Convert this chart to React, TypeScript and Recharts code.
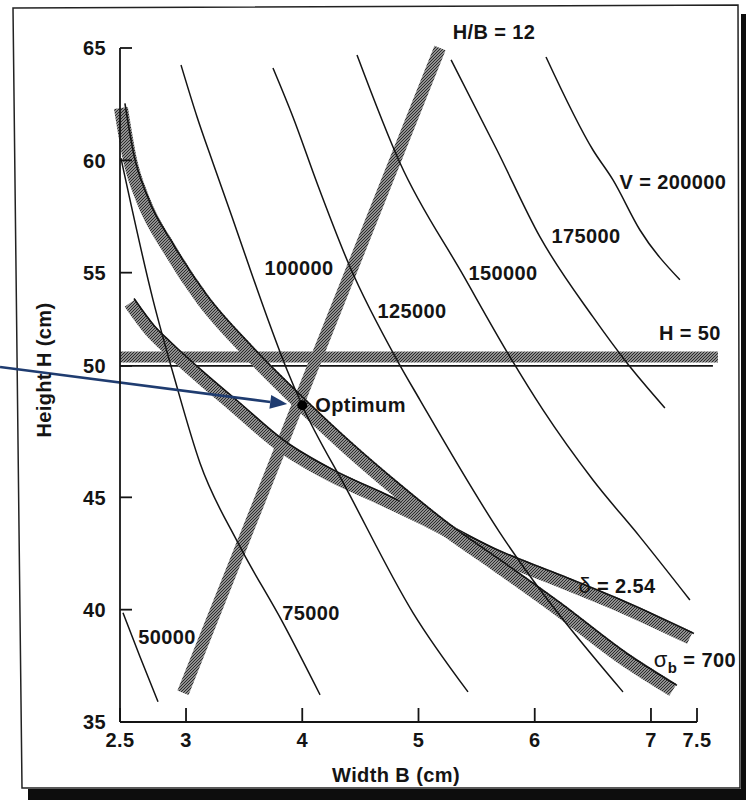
import { Label, Line, LineChart, ReferenceDot, ReferenceLine, XAxis, YAxis } from "recharts"

const FONT = "'Liberation Sans', Arial, Helvetica, sans-serif"
const INK = "#141414"
const NAVY = "#1f3c70"

// axis ticks (the end ticks of the scanned figure sit a bit off the linear scale)
const xTicks = [2.432, 3, 4, 5, 6, 7, 7.396]
const yTicks = [35, 40, 45, 50.85, 55, 60, 65]

// iso-volume curves V, width B (cm) vs height H (cm)
const v50000 = [
  { B: 2.458, H: 39.86 },
  { B: 2.604, H: 37.9 },
  { B: 2.759, H: 35.9 },
]
const v75000 = [
  { B: 2.44, H: 60.1 },
  { B: 2.716, H: 53.79 },
  { B: 2.905, H: 50.22 },
  { B: 3.12, H: 46.53 },
  { B: 3.447, H: 42.97 },
  { B: 3.834, H: 39.41 },
  { B: 4.153, H: 36.21 },
]
const v100000 = [
  { B: 2.957, H: 64.24 },
  { B: 3.095, H: 61.93 },
  { B: 3.232, H: 59.88 },
  { B: 3.396, H: 57.48 },
  { B: 3.533, H: 55.43 },
  { B: 3.697, H: 53.03 },
  { B: 3.869, H: 50.67 },
  { B: 3.998, H: 49.11 },
  { B: 4.385, H: 45.33 },
  { B: 4.953, H: 39.86 },
  { B: 5.426, H: 36.34 },
]
const v125000 = [
  { B: 3.748, H: 64.11 },
  { B: 3.92, H: 61.93 },
  { B: 4.127, H: 58.99 },
  { B: 4.411, H: 55.25 },
  { B: 4.815, H: 51.11 },
  { B: 5.013, H: 49.33 },
  { B: 5.701, H: 43.42 },
  { B: 6.759, H: 36.34 },
]
const v150000 = [
  { B: 4.471, H: 64.69 },
  { B: 4.841, H: 59.88 },
  { B: 5.383, H: 54.9 },
  { B: 5.787, H: 51.25 },
  { B: 6.071, H: 48.89 },
  { B: 6.501, H: 45.77 },
  { B: 6.905, H: 43.24 },
  { B: 7.335, H: 40.43 },
]
const v175000 = [
  { B: 5.28, H: 64.47 },
  { B: 5.675, H: 60.46 },
  { B: 6.045, H: 56.59 },
  { B: 6.501, H: 53.03 },
  { B: 6.794, H: 50.98 },
  { B: 7.12, H: 48.98 },
]
const v200000 = [
  { B: 6.097, H: 64.6 },
  { B: 6.501, H: 60.46 },
  { B: 6.673, H: 59.13 },
  { B: 6.905, H: 56.9 },
  { B: 7.249, H: 54.68 },
]

// constraint boundaries
const sigmaB700 = [
  { B: 2.44, H: 62.33 },
  { B: 2.518, H: 60.02 },
  { B: 2.63, H: 58.24 },
  { B: 2.862, H: 56.01 },
  { B: 3.146, H: 53.79 },
  { B: 3.525, H: 51.56 },
  { B: 3.998, H: 49.11 },
  { B: 4.385, H: 47.24 },
  { B: 4.815, H: 45.33 },
  { B: 5.245, H: 43.55 },
  { B: 5.675, H: 41.99 },
  { B: 6.191, H: 40.08 },
  { B: 6.759, H: 37.85 },
  { B: 7.189, H: 36.43 },
]
const delta254 = [
  { B: 2.518, H: 53.65 },
  { B: 2.69, H: 52.45 },
  { B: 2.837, H: 51.69 },
  { B: 3.12, H: 50.36 },
  { B: 3.404, H: 49.11 },
  { B: 3.809, H: 47.33 },
  { B: 4.239, H: 46.0 },
  { B: 4.669, H: 44.97 },
  { B: 5.099, H: 43.91 },
  { B: 5.615, H: 42.53 },
  { B: 6.191, H: 41.33 },
  { B: 6.759, H: 40.12 },
  { B: 7.335, H: 38.74 },
]
const hOverB12 = [
  { B: 2.974, H: 36.3 },
  { B: 5.185, H: 65.0 },
]
const hLimitBand = 51.25
const hLimitLine = 50.85
const hLimitBandSpan = [2.432, 7.576]
const hLimitLineSpan = [2.432, 7.533]

const optimum = { B: 4.0, H: 49.1 }
const arrowFrom = { B: 1.4, H: 50.8 }
const arrowTip = { B: 3.87, H: 49.15 }

const curveLabels = [
  { text: "H/B = 12", B: 5.65, H: 65.71 },
  { text: "V = 200000", B: 7.189, H: 59.04 },
  { text: "175000", B: 6.441, H: 56.63 },
  { text: "150000", B: 5.727, H: 54.99 },
  { text: "125000", B: 4.944, H: 53.3 },
  { text: "100000", B: 3.972, H: 55.21 },
  { text: "H = 50", B: 7.335, H: 52.32 },
  { text: "75000", B: 4.075, H: 39.86 },
  { text: "50000", B: 2.837, H: 38.79 },
  { text: "δ = 2.54", B: 6.708, H: 41.06 },
  { text: "σb = 700", B: 7.378, H: 37.76 },
]

const vCurves = [v50000, v75000, v100000, v125000, v150000, v175000, v200000]

const textProps = {
  fontFamily: FONT,
  fontSize: 20,
  fontWeight: 700,
  letterSpacing: 0.4,
  fill: INK,
}

function XTick(props: any) {
  const { x, y, payload } = props
  const label = String(Math.round(payload.value * 2) / 2)
  return (
    <g>
      <line x1={x} y1={y} x2={x} y2={y - 14} stroke={INK} strokeWidth={1.8} />
      <text x={x} y={y + 25} textAnchor="middle" {...textProps}>
        {label}
      </text>
    </g>
  )
}

function YTick(props: any) {
  const { x, y, payload } = props
  const label = String(Math.round(payload.value / 5) * 5)
  return (
    <g>
      <line x1={x} y1={y} x2={x + 12} y2={y} stroke={INK} strokeWidth={1.8} />
      <text x={x - 14} y={y} dy="0.36em" textAnchor="end" {...textProps}>
        {label}
      </text>
    </g>
  )
}

function CurveText({ cx, cy, text }: { cx: number; cy: number; text: string }) {
  if (text.startsWith("σb")) {
    return (
      <text x={cx} y={cy} dy="0.36em" textAnchor="middle" {...textProps}>
        <tspan fontWeight={400} fontSize={22}>σ</tspan>
        <tspan fontSize={15} dy={6}>b</tspan>
        <tspan dy={-6}>{text.slice(2)}</tspan>
      </text>
    )
  }
  if (text.startsWith("δ")) {
    return (
      <text x={cx} y={cy} dy="0.36em" textAnchor="middle" {...textProps}>
        <tspan fontWeight={400} fontSize={22}>δ</tspan>
        <tspan>{text.slice(1)}</tspan>
      </text>
    )
  }
  return (
    <text x={cx} y={cy} dy="0.36em" textAnchor="middle" {...textProps}>
      {text}
    </text>
  )
}

function Arrow(props: any) {
  const { x1, y1, x2, y2 } = props
  const dx = x2 - x1
  const dy = y2 - y1
  const len = Math.hypot(dx, dy) || 1
  const ux = dx / len
  const uy = dy / len
  const head = 17
  const half = 7
  const bx = x2 - ux * head
  const by = y2 - uy * head
  return (
    <g>
      <line x1={x1} y1={y1} x2={bx} y2={by} stroke={NAVY} strokeWidth={2.6} />
      <polygon
        points={`${x2},${y2} ${bx - uy * half},${by + ux * half} ${bx + uy * half},${by - ux * half}`}
        fill={NAVY}
      />
    </g>
  )
}

export default function App() {
  return (
    <div style={{ position: "absolute", left: 0, top: 0, width: 746, height: 800, overflow: "hidden", background: "#fff" }}>
      <style>{`.band-edge path { transform: translate(4px, -4.5px); }`}</style>

      {/* scanned page frame + hatch pattern */}
      <svg width={746} height={800} style={{ position: "absolute", left: 0, top: 0 }}>
        <defs>
          <pattern id="hatch" patternUnits="userSpaceOnUse" width="3" height="3">
            <rect width="3" height="3" fill="#bdbdbd" />
            <path d="M-1,1 L1,-1 M0,3 L3,0 M2,4 L4,2" stroke="#262626" strokeWidth="1.15" />
          </pattern>
        </defs>
        <rect x={741} y={14} width={5} height={786} fill="#0d0d0d" />
        <rect x={28} y={789} width={718} height={11} fill="#0d0d0d" />
        <polygon points="13,8 738,5 740,788 22,788" fill="#fff" stroke="#222" strokeWidth={1.5} />
      </svg>

      <div style={{ position: "absolute", left: 0, top: 0 }}>
        <LineChart width={746} height={800} margin={{ top: 48, right: 49, bottom: 0, left: 0 }}>
          <XAxis
            type="number"
            dataKey="B"
            domain={[2.432, 7.396]}
            ticks={xTicks}
            interval={0}
            height={78}
            tickSize={0}
            tickMargin={0}
            tickLine={false}
            tick={<XTick />}
            axisLine={{ stroke: INK, strokeWidth: 1.8 }}
          >
            <Label
              content={() => (
                <text x={396} y={782} textAnchor="middle" {...textProps}>
                  Width B (cm)
                </text>
              )}
            />
          </XAxis>
          <YAxis
            type="number"
            dataKey="H"
            domain={[35, 65]}
            ticks={yTicks}
            interval={0}
            width={120}
            tickSize={0}
            tickMargin={0}
            tickLine={false}
            tick={<YTick />}
            axisLine={{ stroke: INK, strokeWidth: 1.8 }}
          >
            <Label
              content={() => (
                <text x={51} y={370} transform="rotate(-90 51 370)" textAnchor="middle" {...textProps}>
                  Height H (cm)
                </text>
              )}
            />
          </YAxis>

          {/* H = 50 limit: hatched band with its boundary line */}
          <ReferenceLine
            segment={[
              { x: hLimitBandSpan[0], y: hLimitBand },
              { x: hLimitBandSpan[1], y: hLimitBand },
            ]}
            stroke="url(#hatch)"
            strokeWidth={11}
            ifOverflow="visible"
          />
          <ReferenceLine
            segment={[
              { x: hLimitLineSpan[0], y: hLimitLine },
              { x: hLimitLineSpan[1], y: hLimitLine },
            ]}
            stroke={INK}
            strokeWidth={1.6}
            ifOverflow="visible"
          />

          <Line data={hOverB12} dataKey="H" type="linear" stroke="url(#hatch)" strokeWidth={12}
            dot={false} activeDot={false} isAnimationActive={false} />

          <Line data={delta254} dataKey="H" type="monotone" stroke="url(#hatch)" strokeWidth={13}
            dot={false} activeDot={false} isAnimationActive={false} />
          <Line data={delta254} dataKey="H" type="monotone" className="band-edge" stroke={INK} strokeWidth={1.6}
            dot={false} activeDot={false} isAnimationActive={false} />

          <Line data={sigmaB700} dataKey="H" type="monotone" stroke="url(#hatch)" strokeWidth={14}
            dot={false} activeDot={false} isAnimationActive={false} />
          <Line data={sigmaB700} dataKey="H" type="monotone" className="band-edge" stroke={INK} strokeWidth={1.6}
            dot={false} activeDot={false} isAnimationActive={false} />

          {vCurves.map((c, i) => (
            <Line key={i} data={c} dataKey="H" type="monotone" stroke={INK} strokeWidth={1.5}
              dot={false} activeDot={false} isAnimationActive={false} />
          ))}

          {curveLabels.map((l) => (
            <ReferenceDot
              key={l.text}
              x={l.B}
              y={l.H}
              r={0}
              ifOverflow="visible"
              shape={(p: any) => <CurveText cx={p.cx} cy={p.cy} text={l.text} />}
            />
          ))}

          <ReferenceDot
            x={optimum.B}
            y={optimum.H}
            r={5}
            fill="#000"
            stroke="none"
            ifOverflow="visible"
            label={{ value: "Optimum", position: "right", offset: 8, ...textProps }}
          />

          <ReferenceLine
            segment={[
              { x: arrowFrom.B, y: arrowFrom.H },
              { x: arrowTip.B, y: arrowTip.H },
            ]}
            ifOverflow="visible"
            shape={(p: any) => <Arrow {...p} />}
          />
        </LineChart>
      </div>
    </div>
  )
}
